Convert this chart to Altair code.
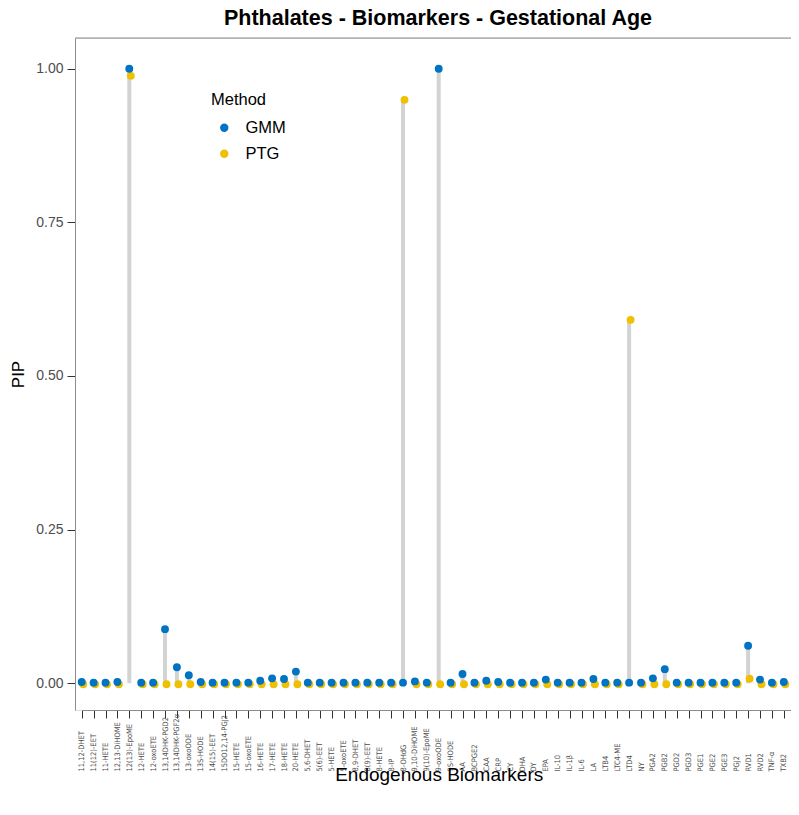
import altair as alt
import pandas as pd

categories = [
    "11,12-DHET", "11(12)-EET", "11-HETE", "12,13-DiHOME", "12(13)-EpoME", "12-HETE",
    "12-oxoETE", "13,14DHK-PGD2", "13,14DHK-PGF2α", "13-oxoODE", "13S-HODE", "14(15)-EET",
    "15DO12,14-PGJ2", "15-HETE", "15-oxoETE", "16-HETE", "17-HETE", "18-HETE", "20-HETE",
    "5,6-DHET", "5(6)-EET", "5-HETE", "5-oxoETE", "8,9-DHET", "8(9)-EET", "8-HETE", "8-IP",
    "8-OHdG", "9,10-DiHOME", "9(10)-EpoME", "9-oxoODE", "9S-HODE", "AA", "BCPGE2", "CAA",
    "CRP", "CY", "DHA", "DY", "EPA", "IL-10", "IL-1β", "IL-6", "LA", "LTB4", "LTC4-ME",
    "LTD4", "NY", "PGA2", "PGB2", "PGD2", "PGD3", "PGE1", "PGE2", "PGE3", "PGJ2", "RVD1",
    "RVD2", "TNF-α", "TXB2", "α-A",
]

gmm = [
    0.002, 0.001, 0.001, 0.002, 1.000, 0.001, 0.001, 0.088, 0.026, 0.013, 0.002, 0.001,
    0.001, 0.001, 0.001, 0.004, 0.008, 0.007, 0.019, 0.001, 0.001, 0.001, 0.001, 0.001,
    0.001, 0.001, 0.001, 0.001, 0.003, 0.001, 1.000, 0.001, 0.015, 0.001, 0.004, 0.002,
    0.001, 0.001, 0.001, 0.006, 0.001, 0.001, 0.001, 0.007, 0.001, 0.001, 0.001, 0.001,
    0.008, 0.023, 0.001, 0.001, 0.001, 0.001, 0.001, 0.001, 0.061, 0.006, 0.001, 0.002,
    0.001,
]

ptg = [
    0.0, 0.0, 0.0, 0.0, 0.990, 0.0, 0.0, 0.0, 0.0, 0.0, 0.0, 0.0,
    0.0, 0.0, 0.0, 0.0, 0.0, 0.0, 0.0, 0.0, 0.0, 0.0, 0.0, 0.0,
    0.0, 0.0, 0.0, 0.951, 0.0, 0.0, 0.0, 0.0, 0.0, 0.0, 0.0, 0.0,
    0.0, 0.0, 0.0, 0.0, 0.0, 0.0, 0.0, 0.0, 0.0, 0.0, 0.593, 0.0,
    0.0, 0.0, 0.0, 0.0, 0.0, 0.0, 0.0, 0.0, 0.009, 0.0, 0.0, 0.0,
    0.0,
]

methods = ["GMM", "PTG"]
colors = ["#0073C2", "#EFC000"]
chart_title = "Phthalates - Biomarkers - Gestational Age"

df_g = pd.DataFrame({"Biomarker": categories, "PIP": gmm, "Method": "GMM"})
df_p = pd.DataFrame({"Biomarker": categories, "PIP": ptg, "Method": "PTG"})
df_s = pd.DataFrame({"Biomarker": categories,
                     "top": [max(a, b) for a, b in zip(gmm, ptg)]})

W, H = 716, 672
FONT = "Liberation Sans"
NARROW = "Liberation Sans Narrow, DejaVu Sans Condensed, Liberation Sans"

xenc = alt.X(
    "Biomarker:N",
    sort=categories,
    scale=alt.Scale(type="point", range=[6.7, 6.7 + 60 * 11.9], padding=0),
    axis=alt.Axis(
        title="Endogenous Biomarkers", labelAngle=270, labelAlign="left",
        labelBaseline="middle", labelFontSize=7.5, labelColor="#4D4D4D",
        labelPadding=53, tickSize=8, tickColor="#333333", domainColor="#8C8C8C",
        titleFontSize=19, titleFontWeight="normal", titleColor="#000000",
        titlePadding=-6, labelOverlap=False, labelBound=False, grid=False,
        labelFont=NARROW, titleFont=FONT,
    ),
)

yscale = alt.Scale(domain=[-0.0435, 1.05], nice=False, zero=False)
yaxis = alt.Axis(
    title="PIP", values=[0, 0.25, 0.5, 0.75, 1.0], format=".2f",
    labelFontSize=14, labelColor="#4D4D4D", labelPadding=4, tickSize=8,
    tickColor="#333333", domainColor="#8C8C8C", titleFontSize=17,
    titleFontWeight="normal", titleColor="#000000", titlePadding=8, grid=False,
    labelFont=FONT, titleFont=FONT,
)

color = alt.Color(
    "Method:N",
    scale=alt.Scale(domain=methods, range=colors),
    legend=alt.Legend(
        title="Method", orient="none", legendX=136, legendY=54,
        titleFontSize=16.5, titleFontWeight="normal", titleColor="#000000",
        labelFontSize=16.5, labelColor="#000000", symbolType="circle",
        symbolSize=70, symbolStrokeWidth=0, symbolOffset=5, labelOffset=13,
        rowPadding=9, titlePadding=11, titleFont=FONT, labelFont=FONT,
    ),
)

stems = alt.Chart(df_s).mark_rule(strokeWidth=4, color="#D3D3D3").encode(
    x=xenc,
    y=alt.Y("top:Q", scale=yscale, axis=yaxis),
    y2=alt.datum(0),
)

pts_p = alt.Chart(df_p).mark_circle(size=62, opacity=1, xOffset=1.5, yOffset=1).encode(
    x=xenc, y=alt.Y("PIP:Q", scale=yscale, axis=yaxis), color=color,
)
pts_g = alt.Chart(df_g).mark_circle(size=62, opacity=1).encode(
    x=xenc, y=alt.Y("PIP:Q", scale=yscale, axis=yaxis), color=color,
)

top_border = alt.Chart(pd.DataFrame({"a": [0]})).mark_rule(color="#8C8C8C", strokeWidth=1).encode(
    x=alt.value(0), x2=alt.value(W), y=alt.value(0),
)

title_mark = alt.Chart(pd.DataFrame({"t": [chart_title]})).mark_text(
    font=FONT, fontSize=21.5, fontWeight="bold", color="#000000",
    align="center", baseline="alphabetic",
).encode(
    text="t:N", x=alt.value(363), y=alt.value(-13),
)

chart = alt.layer(stems, pts_p, pts_g, top_border, title_mark).properties(
    width=W, height=H,
    autosize=alt.AutoSizeParams(type="none"),
    padding={"left": 67, "top": 30, "right": 0, "bottom": 85},
).configure_view(stroke=None).configure(background="#FFFFFF")

chart.save("out.html", embed_options={"renderer": "svg", "actions": False})
